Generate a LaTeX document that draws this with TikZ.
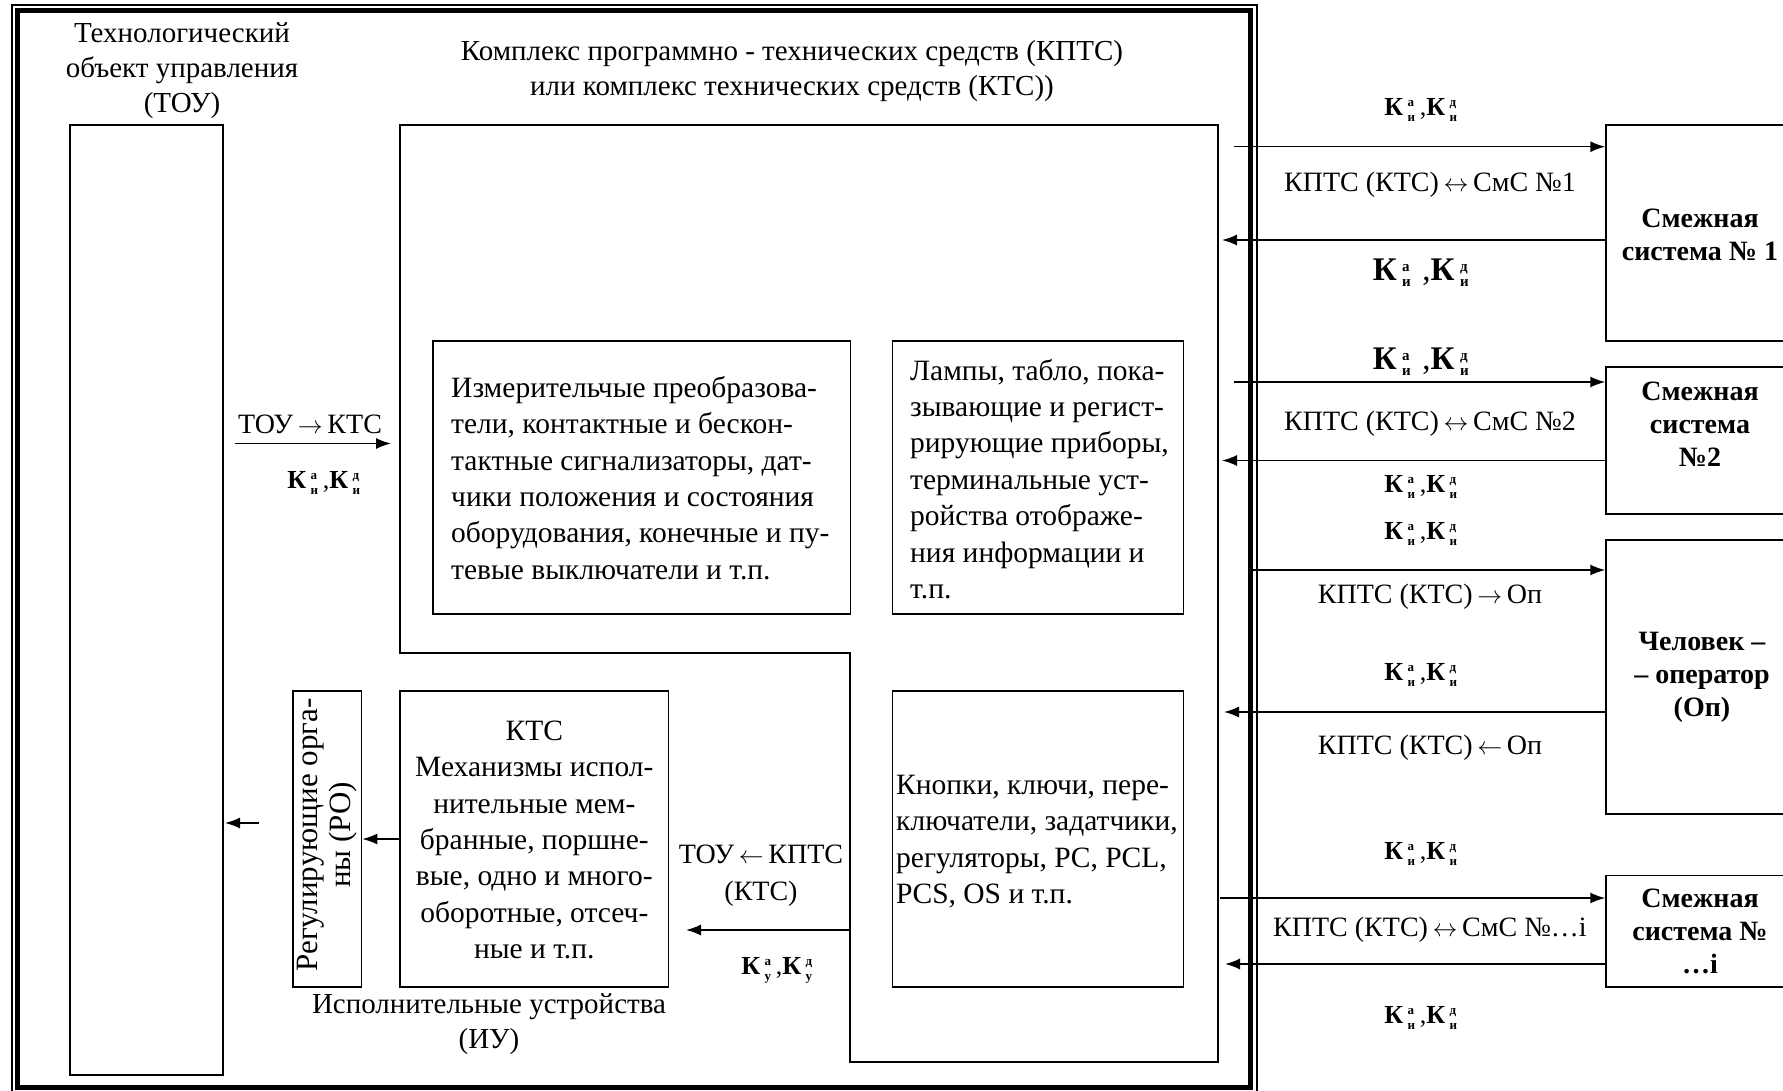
\documentclass[tikz,border=0pt]{standalone}
\usepackage{amsmath}
\usepackage{fontspec}
\setmainfont{Liberation Serif}
\usetikzlibrary{arrows.meta}
\newcommand{\sk}[2]{\ensuremath{^{\mbox{\fontsize{13}{13}\selectfont\bfseries #1}}_{\mbox{\fontsize{13}{13}\selectfont\bfseries #2}}}}
\newcommand{\Klab}[1]{\textbf{К}\,\sk{а}{#1}\,,\textbf{К}\,\sk{д}{#1}}
\newcommand{\skb}[2]{\ensuremath{^{\mbox{\fontsize{15}{15}\selectfont\bfseries #1}}_{\mbox{\fontsize{15}{15}\selectfont\bfseries #2}}}}
\newcommand{\Klabb}[1]{\textbf{К}\,\skb{а}{#1}\,\,,\textbf{К}\,\skb{д}{#1}}
\newcommand{\ra}{\,\ensuremath{\rightarrow}\,}
\newcommand{\la}{\,\ensuremath{\leftarrow}\,}
\newcommand{\lra}{\,\ensuremath{\leftrightarrow}\,}
\tikzset{
  x=1pt, y=-1pt,
  box/.style={draw, line width=1.5pt, inner sep=0pt, rectangle},
  txt/.style={font=\fontsize{29.5}{36.4}\selectfont, inner sep=0pt},
  ttl/.style={font=\fontsize{29}{35}\selectfont, inner sep=0pt, align=center},
  lbl/.style={font=\fontsize{28}{34}\selectfont, inner sep=0pt},
  bld/.style={font=\fontsize{28}{33}\selectfont\bfseries, inner sep=0pt, align=center},
  klab/.style={font=\fontsize{26}{30}\selectfont, inner sep=0pt},
  kbig/.style={font=\fontsize{33}{36}\selectfont, inner sep=0pt},
  arr/.style={line width=1.5pt, -{Latex[length=15pt,width=11pt]}},
}
\begin{document}
\begin{tikzpicture}
\useasboundingbox (0,0) rectangle (1783,1090);
\clip (0,0) rectangle (1783,1090);
% outer frame
\draw[line width=1.3pt] (12,5) rectangle (1257,1100);
\draw[line width=5pt] (17.5,10.5) rectangle (1250,1087.5);
% titles
\node[ttl] (toutitle) at (182,71) {Технологический\\объект управления\\(ТОУ)};
\node[ttl] (kptstitle) at (792,71) {Комплекс программно - технических средств (КПТС)\\или комплекс технических средств (КТС))};
% TOU box
\node[box, minimum width=153pt, minimum height=950pt] (tou) at (146.5,600) {};
% KPTS outline
\draw[line width=1.5pt] (400,125) -- (1218,125) -- (1218,1062) -- (850,1062) -- (850,653) -- (400,653) -- cycle;
% inner boxes
\node[box, minimum width=417.5pt, minimum height=273pt] (izm) at (641.75,477.5) {};
\node[txt, align=left, anchor=west] (izmt) at (451,478) {Измерительчые преобразова-\\тели, контактные и бескон-\\тактные сигнализаторы, дат-\\чики положения и состояния\\оборудования, конечные и пу-\\тевые выключатели и т.п.};
\node[box, minimum width=291pt, minimum height=273pt] (lamp) at (1038.15,477.5) {};
\node[txt, align=left, anchor=west] (lampt) at (910,479) {Лампы, табло, пока-\\зывающие и регист-\\рирующие приборы,\\терминальные уст-\\ройства отображе-\\ния информации и\\т.п.};
\node[box, minimum width=291pt, minimum height=296pt] (knop) at (1038.15,839) {};
\node[txt, align=left, anchor=west] (knopt) at (896,841.5) {Кнопки, ключи, пере-\\ключатели, задатчики,\\регуляторы, PC, PCL,\\PCS, OS и т.п.};
\node[box, minimum width=268.6pt, minimum height=296pt] (mech) at (534.3,839) {};
\node[txt, align=center] (mecht) at (534.3,840) {КТС\\Механизмы испол-\\нительные мем-\\бранные, поршне-\\вые, одно и много-\\оборотные, отсеч-\\ные и т.п.};
\node[box, minimum width=68.6pt, minimum height=296pt] (ro) at (327.3,839) {};
\node[txt, align=center, rotate=90, font=\fontsize{31}{33}\selectfont] (rot) at (327.3,835) {Регулирующие орга-\\ны (РО)};
\node[ttl] (iu) at (489,1024) {Исполнительные устройства\\(ИУ)};
% left arrows
\coordinate (c1s) at (235,443.5);
\coordinate (c1e) at (391,443.5);
\draw[arr] (c1s) -- (c1e);
\node[lbl] (l1) at (310,424) {ТОУ\ra КТС};
\node[klab] (l1k) at (324,483) {\Klab{и}};
\draw[arr] (mech.west) -- (ro.east);
\coordinate (c2s) at (259,823);
\coordinate (c2e) at (225,823);
\draw[arr] (c2s) -- (c2e);
\coordinate (c3s) at (850,930);
\coordinate (c3e) at (686,930);
\draw[arr] (c3s) -- (c3e);
\node[lbl, align=center, font=\fontsize{28}{37}\selectfont] (l3) at (761,876) {ТОУ\la КПТС\\(КТС)};
\node[klab] (l3k) at (777,970) {\Klab{у}};
% right boxes
\node[box, minimum width=200pt, minimum height=216pt] (smc1) at (1706,233) {};
\node[bld] (smc1t) at (1700,234.5) {Смежная\\система № 1};
\node[box, minimum width=200pt, minimum height=147pt] (smc2) at (1706,440.5) {};
\node[bld] (smc2t) at (1700,424) {Смежная\\система\\№2};
\node[box, minimum width=200pt, minimum height=274pt] (oper) at (1706,677) {};
\node[bld] (opert) at (1702,677.5) {Человек –\\– оператор\\(Оп)};
\node[box, minimum width=200pt, minimum height=111.4pt] (smci) at (1706,931.3) {};
\node[bld] (smcit) at (1700,931) {Смежная\\система №\\…i};
% right arrows
\coordinate (r1) at (1234,146.7);
\draw[arr] (r1) -- (smc1.west |- r1);
\coordinate (r2) at (1222,240);
\draw[arr] (smc1.west |- r2) -- (r2);
\coordinate (r3) at (1234,382);
\draw[arr] (r3) -- (smc2.west |- r3);
\coordinate (r4) at (1222,460.5);
\draw[arr] (smc2.west |- r4) -- (r4);
\coordinate (r5) at (1251,570);
\draw[arr] (r5) -- (oper.west |- r5);
\coordinate (r6) at (1224,712);
\draw[arr] (oper.west |- r6) -- (r6);
\coordinate (r7) at (1220,898);
\draw[arr] (r7) -- (smci.west |- r7);
\coordinate (r8) at (1225,964);
\draw[arr] (smci.west |- r8) -- (r8);
% right labels
\node[klab] (k1) at (1421,110) {\Klab{и}};
\node[lbl] (t1) at (1430,185) {КПТС (КТС)\lra СмС №1};
\node[kbig] (k2) at (1421,273) {\Klabb{и}};
\node[kbig] (k3) at (1421,362) {\Klabb{и}};
\node[lbl] (t2) at (1430,424) {КПТС (КТС)\lra СмС №2};
\node[klab] (k4) at (1421,487) {\Klab{и}};
\node[klab] (k5) at (1421,534) {\Klab{и}};
\node[lbl] (t3) at (1430,597) {КПТС (КТС)\ra Оп};
\node[klab] (k6) at (1421,675) {\Klab{и}};
\node[lbl] (t4) at (1430,748) {КПТС (КТС)\la Оп};
\node[klab] (k7) at (1421,854) {\Klab{и}};
\node[lbl] (t5) at (1430,930) {КПТС (КТС)\lra СмС №…i};
\node[klab] (k8) at (1421,1018) {\Klab{и}};
\end{tikzpicture}
\end{document}
